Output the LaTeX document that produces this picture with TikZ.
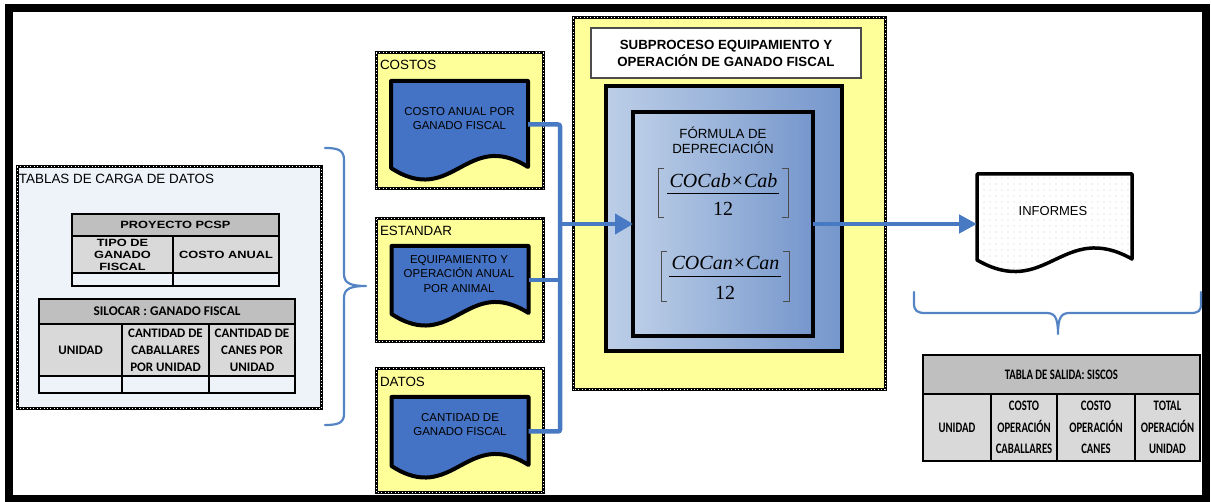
\documentclass[tikz,border=0pt]{standalone}
\usepackage{fontspec}
\setmainfont{Liberation Sans}
\newfontfamily\timesfont{Liberation Serif}
\newfontfamily\calfont{Carlito}
\newfontfamily\calnarrow[FakeStretch=0.74]{Carlito}
\newfontfamily\arialwide[FakeStretch=1.22]{Liberation Sans}
\usetikzlibrary{arrows.meta,patterns.meta,calc}

\definecolor{boxyellow}{RGB}{255,255,153}
\definecolor{panelblue}{RGB}{238,242,249}
\definecolor{docblue}{RGB}{68,114,196}
\definecolor{linkblue}{RGB}{72,122,196}
\definecolor{braceblue}{RGB}{84,132,196}
\definecolor{gradlight}{RGB}{188,206,231}
\definecolor{graddark}{RGB}{118,151,204}
\definecolor{headgray}{RGB}{191,191,191}
\definecolor{cellgray}{RGB}{217,217,217}

% document symbol with a wavy bottom edge, drawn over the rectangle of node #1
\newcommand\drawdoc[2]{%
  \path[#2] let \p1=(#1.south west), \p2=(#1.north east) in
    (\x1,\y2) -- (\x2,\y2) -- (\x2,\y1+1pt)
    .. controls ({\x1+0.55*(\x2-\x1)},\y1+40pt) and ({\x1+0.45*(\x2-\x1)},\y1-40pt) .. (\x1,\y1) -- cycle;}

\begin{document}
\begin{tikzpicture}[x=1pt,y=-1pt,
  every node/.style={inner sep=0pt,outer sep=0pt},
  framebox/.style={draw=black,line width=3},
  yellowpanel/.style={framebox,fill=boxyellow},
  graypanel/.style={framebox,fill=panelblue},
  dotline/.style={draw=#1,line width=1,dash pattern=on 0.8pt off 2.6pt},
  docarea/.style={rectangle},
  doctext/.style={font=\fontsize{11.5}{14.5}\selectfont,align=center},
  boxtitle/.style={font=\fontsize{13.4}{16}\selectfont,anchor=west},
  conn/.style={draw=linkblue,line width=4.5,rounded corners=2},
  headtip/.style={-{Triangle[length=18pt,width=#1]}},
  gradbox/.style={draw=black,line width=4,left color=gradlight,right color=graddark},
  bracketline/.style={draw=black!70,line width=1},
  bracestroke/.style={draw=braceblue,line width=2.2,line cap=round,line join=round},
  cell/.style={draw=black,line width=1.3,fill=cellgray,align=center},
  headcell/.style={cell,fill=headgray},
  blankcell/.style={draw=black,line width=1.3},
  pcspfont/.style={font=\arialwide\bfseries\fontsize{10.5}{12}\selectfont},
  silofont/.style={font=\calfont\bfseries\fontsize{13}{17}\selectfont},
  silohdr/.style={font=\calfont\bfseries\fontsize{13.3}{16}\selectfont},
  siscosfont/.style={font=\calnarrow\bfseries\fontsize{14.5}{21.5}\selectfont},
  mathtxt/.style={font=\timesfont\fontsize{20}{24}\selectfont,anchor=base},
]
\useasboundingbox (0,0) rectangle (1211,502);

% outer frame
\draw[line width=8] (9,8) rectangle (1206,499);

% ---------- input tables panel ----------
\node[graypanel,minimum width=304,minimum height=242] (loadpanel) at (169,288) {};
\draw[dotline=white] (loadpanel.north west) rectangle (loadpanel.south east);
\node[boxtitle] (loadtitle) at (19,178.5) {TABLAS DE CARGA DE DATOS};

\node[headcell,pcspfont,minimum width=207,minimum height=22] (pcsphead) at (175.5,225) {PROYECTO PCSP};
\node[cell,pcspfont,minimum width=101,minimum height=37] (pcsptipo) at (122.5,254.5) {TIPO DE\\GANADO\\FISCAL};
\node[cell,pcspfont,minimum width=106,minimum height=37] (pcspcosto) at (226,254.5) {COSTO ANUAL};
\node[blankcell,minimum width=101,minimum height=13] (pcspblanka) at (122.5,279.5) {};
\node[blankcell,minimum width=106,minimum height=13] (pcspblankb) at (226,279.5) {};

\node[headcell,silohdr,minimum width=256,minimum height=25] (silohead) at (167,311.5) {SILOCAR : GANADO FISCAL};
\node[cell,silofont,minimum width=83,minimum height=52] (silounidad) at (80.5,350) {UNIDAD};
\node[cell,silofont,minimum width=87,minimum height=52] (silocab) at (165.5,350) {CANTIDAD DE\\CABALLARES\\POR UNIDAD};
\node[cell,silofont,minimum width=86,minimum height=52] (silocan) at (252,350) {CANTIDAD DE\\CANES POR\\UNIDAD};
\node[blankcell,minimum width=83,minimum height=17] (siloblanka) at (80.5,384.5) {};
\node[blankcell,minimum width=87,minimum height=17] (siloblankb) at (165.5,384.5) {};
\node[blankcell,minimum width=86,minimum height=17] (siloblankc) at (252,384.5) {};

\draw[bracestroke] (325,148) .. controls (338,148) and (344,150) .. (344,160) -- (344,274)
  .. controls (344,283) and (350,286) .. (366,286)
  .. controls (350,286) and (344,289) .. (344,298) -- (344,414)
  .. controls (344,423) and (338,425) .. (325,425);

% ---------- source documents ----------
\node[yellowpanel,minimum width=167,minimum height=136] (costbox) at (459.5,121) {};
\node[yellowpanel,minimum width=167,minimum height=123] (estbox) at (459.5,280.5) {};
\node[yellowpanel,minimum width=167,minimum height=124] (datbox) at (459.5,431) {};
\foreach \b in {costbox,estbox,datbox}
  \draw[dotline=white] (\b.north west) rectangle (\b.south east);
\node[boxtitle] (costlbl) at (380,65) {COSTOS};
\node[boxtitle] (estlbl) at (380,231) {ESTANDAR};
\node[boxtitle] (datlbl) at (380,382) {DATOS};

\node[docarea,minimum width=137,minimum height=87] (costdoc) at (459.5,124.5) {};
\node[docarea,minimum width=137,minimum height=68] (estdoc) at (460,280) {};
\node[docarea,minimum width=137,minimum height=69] (datdoc) at (460,431.5) {};
\foreach \d in {costdoc,estdoc,datdoc}
  \drawdoc{\d}{fill=docblue,draw=black,line width=4,line join=round};
\node[doctext] (costtxt) at (459.5,118.5) {COSTO ANUAL POR\\GANADO FISCAL};
\node[doctext] (esttxt) at (459,274) {EQUIPAMIENTO Y\\OPERACIÓN ANUAL\\POR ANIMAL};
\node[doctext] (dattxt) at (460,424.5) {CANTIDAD DE\\GANADO FISCAL};

% ---------- subprocess ----------
\node[yellowpanel,minimum width=312,minimum height=372] (subbox) at (729,204) {};
\draw[dotline=white] (subbox.north west) rectangle (subbox.south east);
\node[draw=black!70,line width=1.2,fill=white,minimum width=270,minimum height=50,align=center,
      font=\bfseries\fontsize{13.3}{17}\selectfont] (subtitle) at (726,53)
      {SUBPROCESO EQUIPAMIENTO Y\\OPERACIÓN DE GANADO FISCAL};
\node[gradbox,minimum width=236,minimum height=265] (outerbox) at (724,218.5) {};
\node[gradbox,minimum width=180,minimum height=224] (inner) at (723,224) {};
\node[align=center,font=\fontsize{13.3}{15}\selectfont] (formtitle) at (723,140) {FÓRMULA DE\\DEPRECIACIÓN};

% first formula
\draw[bracketline] (664,169) -- (658,169) -- (658,218) -- (664,218);
\draw[bracketline] (782,169) -- (788,169) -- (788,218) -- (782,218);
\draw[line width=1] (667,194) -- (779,194);
\node[mathtxt] (numa) at (723.5,188) {\itshape COCab\kern1pt\upshape ×\kern1pt\itshape Cab};
\node[mathtxt] (dena) at (723,216) {12};
% second formula
\draw[bracketline] (667,252) -- (661,252) -- (661,302) -- (667,302);
\draw[bracketline] (783,252) -- (789,252) -- (789,302) -- (783,302);
\draw[line width=1] (669,277) -- (781,277);
\node[mathtxt] (numb) at (725.5,270) {\itshape COCan\kern1pt\upshape ×\kern1pt\itshape Can};
\node[mathtxt] (denb) at (725,300) {12};

% ---------- connectors ----------
\coordinate (bus) at (560,0);
\draw[conn] (costdoc.east) -| (bus |- datdoc.east) -- (datdoc.east);
\draw[conn] (estdoc.east) -- (estdoc.east -| bus);
\draw[conn,headtip=20pt] (inner.west -| bus) -- (inner.west);

% ---------- output ----------
\node[docarea,minimum width=155,minimum height=86] (informes) at (1054.5,217) {};
\drawdoc{informes}{fill=white};
\drawdoc{informes}{pattern={Dots[distance=6pt,radius=0.6pt]},pattern color=black!22};
\drawdoc{informes}{draw=black,line width=3.5,line join=round};
\node[font=\fontsize{13}{15}\selectfont] (informestxt) at (1053,211) {INFORMES};
\draw[conn,headtip=18pt] (inner.east) -- (inner.east -| informes.west);

\draw[bracestroke] (914,292) -- (914,303) .. controls (914,311) and (917,313) .. (926,313) -- (1046,313)
  .. controls (1054,313) and (1058,316) .. (1058,334)
  .. controls (1058,316) and (1062,313) .. (1070,313) -- (1190,313)
  .. controls (1199,313) and (1201,311) .. (1201,303) -- (1201,292);

\node[headcell,siscosfont,minimum width=277,minimum height=39] (siscoshead) at (1061.5,374.5) {TABLA DE SALIDA: SISCOS};
\node[cell,siscosfont,minimum width=68,minimum height=67] (sisunidad) at (957,427.5) {UNIDAD};
\node[cell,siscosfont,minimum width=66,minimum height=67] (siscab) at (1024,427.5) {COSTO\\OPERACIÓN\\CABALLARES};
\node[cell,siscosfont,minimum width=78,minimum height=67] (siscan) at (1096,427.5) {COSTO\\OPERACIÓN\\CANES};
\node[cell,siscosfont,minimum width=65,minimum height=67] (sistotal) at (1167.5,427.5) {TOTAL\\OPERACIÓN\\UNIDAD};
\end{tikzpicture}
\end{document}
